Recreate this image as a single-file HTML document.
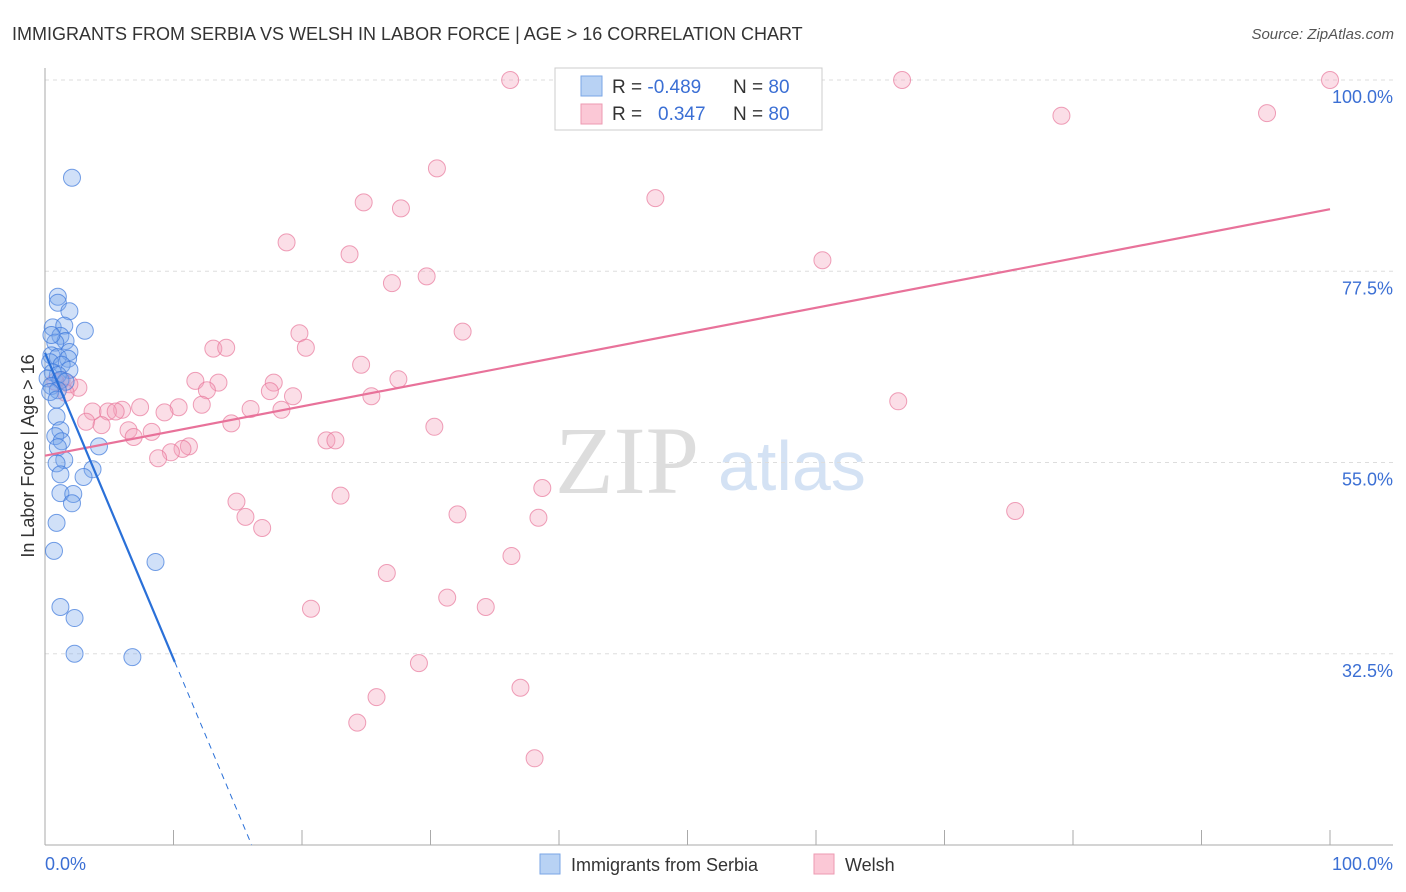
<!DOCTYPE html>
<html><head><meta charset="utf-8"><style>
body{margin:0;background:#fff;font-family:"Liberation Sans",sans-serif;}
svg{display:block}
</style></head><body>
<svg id="chart" width="1406" height="892">
<text x="12" y="40" font-size="18" fill="#333">IMMIGRANTS FROM SERBIA VS WELSH IN LABOR FORCE | AGE &gt; 16 CORRELATION CHART</text>
<text x="1394" y="39" font-size="15" fill="#555" font-style="italic" text-anchor="end">Source: ZipAtlas.com</text>
<g>
<text x="555" y="493" font-size="96" fill="#ddd" font-family="Liberation Serif,serif">ZIP</text>
<text x="718" y="490" font-size="70" fill="#d4e2f4">atlas</text>
</g>
<g id="grid"></g><g id="axes"></g><g id="pts"></g><g id="trend"></g>
<text x="34" y="456" font-size="18" fill="#333" text-anchor="middle" transform="rotate(-90 34 456)">In Labor Force | Age &gt; 16</text>
<text x="45" y="870" font-size="18" fill="#3b6fd4">0.0%</text>
<text x="1393" y="870" font-size="18" fill="#3b6fd4" text-anchor="end">100.0%</text>
<g>
<rect x="540" y="854" width="20" height="20" fill="#b8d2f4" stroke="#7aa6e6"/>
<text x="571" y="871" font-size="18" fill="#333">Immigrants from Serbia</text>
<rect x="814" y="854" width="20" height="20" fill="#fbc8d6" stroke="#ec9ab2"/>
<text x="845" y="871" font-size="18" fill="#333">Welsh</text>
</g>
<g>
<rect x="555" y="68" width="267" height="62" fill="#fff" stroke="#ccc"/>
<rect x="581" y="76" width="21" height="20" fill="#b8d2f4" stroke="#7aa6e6"/>
<rect x="581" y="104" width="21" height="20" fill="#fbc8d6" stroke="#ec9ab2"/>
<text x="612" y="93" font-size="19" fill="#333">R = <tspan fill="#3b6fd4">-0.489</tspan><tspan x="733">N = </tspan><tspan fill="#3b6fd4">80</tspan></text>
<text x="612" y="120" font-size="19" fill="#333">R = <tspan x="658" fill="#3b6fd4">0.347</tspan><tspan x="733">N = </tspan><tspan fill="#3b6fd4">80</tspan></text>
</g>
</svg>
<script>
const yTicks=[100,77.5,55,32.5];
const yTickLabels=["100.0%","77.5%","55.0%","32.5%"];
const xTicks=[0,10,20,30,40,50,60,70,80,90,100];
const welshX=[36.2,41.2,47.9,66.7,100,79.1,95.1,30.5,47.5,24.8,27.7,18.8,23.7,60.5,29.7,27,19.8,32.5,20.3,13.1,14.1,24.6,11.7,27.5,13.5,17.8,12.6,17.5,2.6,25.4,19.3,66.4,12.2,10.4,16,6,18.4,3.7,4.9,9.3,7.4,5.5,3.2,14.5,4.4,6.5,30.3,8.3,6.9,21.9,22.6,11.2,10.7,9.8,8.8,38.7,14.9,23,75.5,32.1,38.4,15.6,16.9,36.3,26.6,31.3,34.3,20.7,29.1,37,25.8,24.3,38.1,1.3,1.9,0.8,1.6];
const welshY=[100,100,100,100,100,95.8,96.1,89.6,86.1,85.6,84.9,80.9,79.5,78.8,76.9,76.1,70.2,70.4,68.5,68.4,68.5,66.5,64.6,64.8,64.4,64.4,63.5,63.4,63.8,62.8,62.8,62.2,61.8,61.5,61.3,61.2,61.2,61,61,60.9,61.5,61,59.8,59.6,59.4,58.8,59.2,58.6,58,57.6,57.6,56.9,56.6,56.2,55.5,52,50.4,51.1,49.3,48.9,48.5,48.6,47.3,44,42,39.1,38,37.8,31.4,28.5,27.4,24.4,20.2,64.7,64.2,64.5,63.2];
const serbiaX=[2.1,1,1,1.9,0.6,3.1,1.5,1.2,1.6,0.8,1.9,0.5,1,1.8,0.4,1.3,1.9,0.6,1,0.2,1.2,1.6,0.5,1,0.4,0.9,0.9,1.2,0.8,1.3,4.2,1,1.5,0.9,3.7,1.2,3,1.2,2.2,2.1,0.9,0.7,8.6,1.2,2.3,2.3,6.8,0.5];
const serbiaY=[88.5,74.5,73.8,72.8,70.9,70.5,71.1,69.9,69.3,69.1,68,67.6,67.4,67.2,66.8,66.5,65.9,65.6,65.3,64.9,64.7,64.5,64,63.5,63.3,62.4,60.4,58.8,58.1,57.5,56.9,56.8,55.3,54.9,54.2,53.6,53.3,51.4,51.3,50.2,47.9,44.6,43.3,38,36.7,32.5,32.1,70];
const welshTrend=[55.8,84.8];
const serbiaTrend=[67.9,-3.6];
const X=v=>45+v*12.85, Y=v=>80+(100-v)*8.5;
const NS="http://www.w3.org/2000/svg";
function mk(p,t,a){const e=document.createElementNS(NS,t);for(const k in a)e.setAttribute(k,a[k]);p.appendChild(e);return e;}
const grid=document.getElementById('grid'),axes=document.getElementById('axes'),pts=document.getElementById('pts'),tr=document.getElementById('trend');
yTicks.forEach((v,i)=>{
 const l=mk(grid,'line',{x1:45,x2:1393,y1:Y(v),y2:Y(v),stroke:'#ddd','stroke-dasharray':'4,4'});
 
 
 const t=mk(grid,'text',{x:1393,y:Y(v)+23,'font-size':18,fill:'#3b6fd4','text-anchor':'end'});
 t.textContent=yTickLabels[i];
 
 
});
const ax=mk(axes,'line',{x1:45,x2:45,y1:68,y2:845,stroke:'#aaa'});


const bx=mk(axes,'line',{x1:45,x2:1393,y1:845,y2:845,stroke:'#aaa'});


xTicks.forEach(v=>{
 const t=mk(axes,'line',{x1:X(v),x2:X(v),y1:830,y2:845,stroke:'#aaa'});
 
 
});
welshX.forEach((x,i)=>{
 const c=mk(pts,'circle',{cx:X(x),cy:Y(welshY[i]),r:8.5,fill:'rgba(244,160,185,0.35)',stroke:'rgba(232,120,155,0.7)','stroke-width':1});
 
 
});
serbiaX.forEach((x,i)=>{
 const c=mk(pts,'circle',{cx:X(x),cy:Y(serbiaY[i]),r:8.5,fill:'rgba(120,165,235,0.35)',stroke:'rgba(60,120,220,0.7)','stroke-width':1});
 
 
});
const wl=mk(tr,'line',{x1:X(0),y1:Y(welshTrend[0]),x2:X(100),y2:Y(welshTrend[1]),stroke:'#e8729a','stroke-width':2.2});


const sEnd=10.1, sDash=(10-serbiaTrend[0])/serbiaTrend[1];
const sl=mk(tr,'line',{x1:X(0),y1:Y(serbiaTrend[0]),x2:X(sEnd),y2:Y(serbiaTrend[0]+serbiaTrend[1]*sEnd),stroke:'#2a70d8','stroke-width':2.2});


const sd=mk(tr,'line',{x1:X(sEnd),y1:Y(serbiaTrend[0]+serbiaTrend[1]*sEnd),x2:X(sDash),y2:Y(10),stroke:'#2a70d8','stroke-width':1,'stroke-dasharray':'6,5'});


</script>
</body></html>
